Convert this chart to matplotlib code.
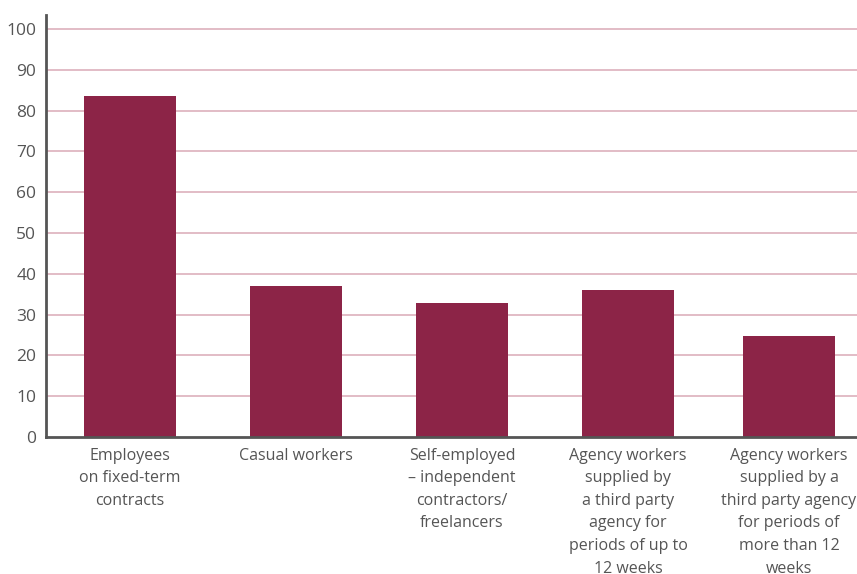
import numpy as np
import matplotlib.pyplot as plt

plt.rcParams['font.family'] = ['Open Sans', 'DejaVu Sans']

categories = ['Employees\non fixed-term\ncontracts',
              'Casual workers',
              'Self-employed\n– independent\ncontractors/\nfreelancers',
              'Agency workers\nsupplied by\na third party\nagency for\nperiods of up to\n12 weeks',
              'Agency workers\nsupplied by a\nthird party agency\nfor periods of\nmore than 12\nweeks']
values = [83.6, 37.0, 32.8, 36.0, 24.8]
yticks = [0, 10, 20, 30, 40, 50, 60, 70, 80, 90, 100]

bar_color = '#8c2447'
grid_color = '#e2bcc6'
text_color = '#555555'

fig = plt.figure(figsize=(8.57, 5.74), dpi=100)
ax = fig.add_axes([46/857, (574-437)/574, 1-46/857, (437-15)/574])

x = np.arange(len(categories))
# shift last bar a little like the original
pos = x.astype(float)
pos[-1] -= 0.03
ax.bar(pos, values, width=0.554, color=bar_color, zorder=3)

for t in yticks[1:]:
    ax.axhline(t, color=grid_color, lw=1.4, zorder=1)

ax.set_xlim(-0.506, 4.38)
ax.set_ylim(0, 103.4)
ax.set_yticks(yticks)
ax.set_yticklabels([str(t) for t in yticks], fontsize=12.5, color=text_color)
ax.tick_params(axis='y', length=0, pad=7)
ax.set_xticks([])

for xi, lab in zip(pos, categories):
    ax.text(xi, -2.6, lab, ha='center', va='top', fontsize=11.5, color=text_color,
            linespacing=1.55, clip_on=False)

for s in ['top', 'right']:
    ax.spines[s].set_visible(False)
ax.spines['left'].set_color('#555555')
ax.spines['left'].set_linewidth(2)
ax.spines['bottom'].set_color('#555555')
ax.spines['bottom'].set_linewidth(2)
ax.spines['left'].set_zorder(4)
ax.spines['bottom'].set_zorder(4)

fig.savefig('out.png', dpi=100)
